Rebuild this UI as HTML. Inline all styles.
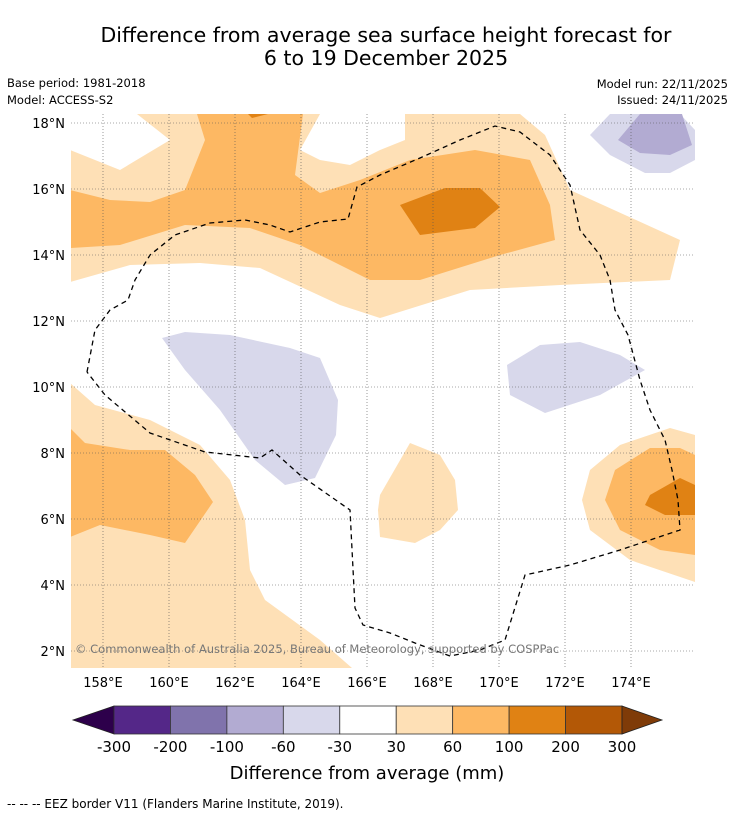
<!DOCTYPE html>
<html><head><meta charset="utf-8"><style>
body{margin:0;background:#fff;width:736px;height:816px;overflow:hidden;font-family:"DejaVu Sans","Liberation Sans",sans-serif}
svg{position:absolute;left:0;top:0}
</style></head><body>
<svg id="s" width="736" height="816" xmlns="http://www.w3.org/2000/svg" font-family="DejaVu Sans, Liberation Sans, sans-serif">
<text x="386" y="42" font-size="20.5" text-anchor="middle">Difference from average sea surface height forecast for</text>
<text x="386" y="65" font-size="20.5" text-anchor="middle">6 to 19 December 2025</text>
<text x="7" y="87" font-size="11.5">Base period: 1981-2018</text>
<text x="7" y="104" font-size="11.5">Model: ACCESS-S2</text>
<text x="728" y="88" font-size="11.5" text-anchor="end">Model run: 22/11/2025</text>
<text x="728" y="104" font-size="11.5" text-anchor="end">Issued: 24/11/2025</text>
<defs><clipPath id="cp"><rect x="71" y="114" width="624" height="554"/></clipPath></defs>
<g id="map" clip-path="url(#cp)"></g>
<g id="grid"></g>
<g id="cbar"></g>
<text x="367" y="779" font-size="18" text-anchor="middle">Difference from average (mm)</text>
<text x="7" y="808" font-size="12">--  --  -- EEZ border V11 (Flanders Marine Institute, 2019).</text>
</svg>
<script>
const NS='http://www.w3.org/2000/svg';
const lonTicks=[158,160,162,164,166,168,170,172,174];
const latTicks=[2,4,6,8,10,12,14,16,18];
const levels=['-300','-200','-100','-60','-30','30','60','100','200','300'];
const levelColors=['#542788','#8073ac','#b2abd2','#d8d8eb','#ffffff','#fee0b6','#fdb863','#e08214','#b35806'];
const minColor='#2d004b', maxColor='#7f3b08';
const X=lon=>70+(lon-157)*33, Y=lat=>123+(18-lat)*33;
const shapes=[
['light-orange-north','#fee0b6',[[70,150],[120,170],[170,140],[137,114],[320,114],[300,150],[320,160],[350,165],[380,150],[405,140],[405,114],[520,114],[545,135],[570,190],[680,240],[670,280],[560,285],[470,290],[380,318],[340,305],[260,268],[200,263],[130,265],[70,282]]],
['orange-north','#fdb863',[[70,190],[110,200],[150,202],[185,190],[205,140],[197,114],[303,114],[295,175],[320,193],[360,180],[410,160],[475,150],[530,160],[550,205],[555,240],[500,255],[420,280],[370,280],[300,245],[250,228],[185,225],[120,245],[70,248]]],
['dark-orange-north','#e08214',[[400,205],[445,188],[480,188],[500,207],[475,228],[420,235]]],
['dark-orange-top','#e08214',[[248,114],[268,114],[252,118]]],
['light-orange-sw','#fee0b6',[[70,383],[95,405],[150,420],[200,445],[230,480],[245,520],[250,570],[265,600],[320,640],[352,668],[70,668]]],
['orange-sw','#fdb863',[[70,428],[85,443],[130,450],[165,450],[195,475],[213,502],[185,543],[150,535],[100,525],[70,537]]],
['light-orange-mid','#fee0b6',[[380,495],[410,443],[440,455],[455,480],[458,510],[440,530],[415,543],[380,537],[378,510]]],
['light-orange-east','#fee0b6',[[695,435],[670,428],[620,445],[590,470],[582,500],[590,530],[630,560],[695,582]]],
['orange-east','#fdb863',[[695,455],[680,448],[650,448],[615,470],[605,500],[620,530],[660,550],[695,555]]],
['dark-orange-east','#e08214',[[695,485],[680,478],[650,495],[645,505],[665,515],[695,515]]],
['lavender-west','#d8d8eb',[[162,338],[185,332],[230,335],[290,348],[320,358],[338,400],[336,435],[315,478],[285,485],[255,460],[220,410],[185,370]]],
['lavender-east','#d8d8eb',[[507,365],[540,345],[580,342],[620,355],[645,370],[600,395],[545,413],[510,395]]],
['lavender-ne','#d8d8eb',[[590,135],[610,114],[680,114],[695,130],[695,160],[670,173],[645,173],[610,155]]],
['purple-ne','#b2abd2',[[618,140],[640,114],[682,114],[692,145],[670,155],[640,153]]]
];
const eez=[[87,372],[95,330],[110,310],[128,300],[135,280],[150,255],[175,235],[210,223],[245,220],[270,225],[290,232],[320,222],[348,219],[357,187],[380,175],[420,158],[460,140],[495,126],[520,132],[550,155],[570,185],[580,230],[600,255],[610,280],[615,310],[628,335],[640,380],[650,410],[665,440],[672,470],[678,500],[680,530],[620,550],[570,565],[525,575],[505,640],[480,650],[450,656],[415,643],[390,633],[363,625],[355,608],[350,510],[300,475],[272,450],[260,458],[205,452],[150,433],[105,395],[87,372]];
function mk(t,a,p){const e=document.createElementNS(NS,t);for(const k in a)e.setAttribute(k,a[k]);(p||document.getElementById('s')).appendChild(e);return e;}
const map=document.getElementById('map');
shapes.forEach(s=>{const e=mk('polygon',{points:s[2].map(p=>p.join(',')).join(' '),fill:s[1],stroke:'none'},map);

});
const ez=mk('polyline',{points:eez.map(p=>p.join(',')).join(' '),fill:'none',stroke:'#000','stroke-width':1.3,'stroke-dasharray':'5,4'},map);


const g=document.getElementById('grid');
lonTicks.forEach(l=>{const x=X(l);
mk('line',{x1:x,x2:x,y1:114,y2:668,stroke:'#555','stroke-width':0.6,'stroke-dasharray':'1,2'},g);
const t=mk('text',{x:x,y:687,'font-size':13,'text-anchor':'middle'},g);t.textContent=l+'°E';

});
latTicks.forEach(l=>{const y=Y(l);
mk('line',{x1:71,x2:695,y1:y,y2:y,stroke:'#555','stroke-width':0.6,'stroke-dasharray':'1,2'},g);
const t=mk('text',{x:65,y:y+5,'font-size':13,'text-anchor':'end'},g);t.textContent=l+'°N';

});
const cr=mk('text',{x:75,y:653,'font-size':11.5,fill:'#777'},g);cr.textContent='© Commonwealth of Australia 2025, Bureau of Meteorology, supported by COSPPac';


const cb=document.getElementById('cbar');
const bx0=114,bx1=622,by=706,bh=28;
const bw=(bx1-bx0)/levelColors.length;
const lt=mk('polygon',{points:`${bx0},${by} 73,${by+bh/2} ${bx0},${by+bh}`,fill:minColor,stroke:'#222','stroke-width':0.8},cb);


levelColors.forEach((c,i)=>{const r=mk('rect',{x:bx0+i*bw,y:by,width:bw,height:bh,fill:c,stroke:'#333','stroke-width':0.8},cb);

});
const rt=mk('polygon',{points:`${bx1},${by} 662,${by+bh/2} ${bx1},${by+bh}`,fill:maxColor,stroke:'#222','stroke-width':0.8},cb);


levels.forEach((l,i)=>{const t=mk('text',{x:bx0+i*bw,y:752,'font-size':15,'text-anchor':'middle'},cb);t.textContent=l;

});
</script>
</body></html>
